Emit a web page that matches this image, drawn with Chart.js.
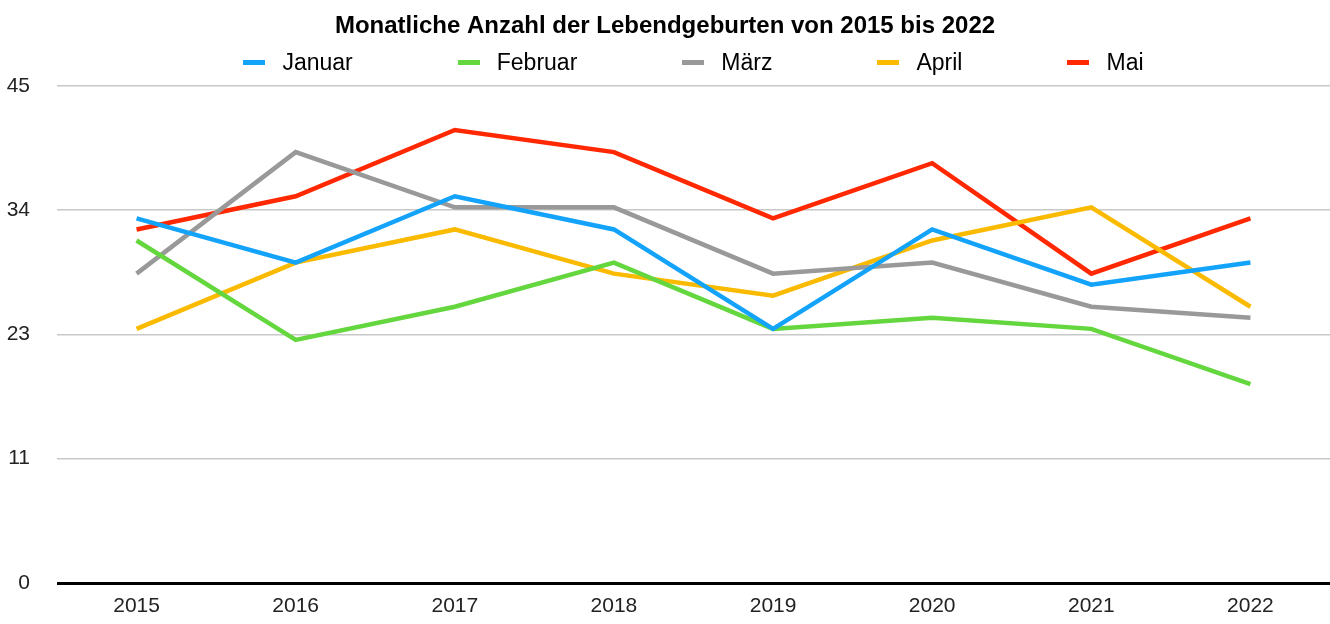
<!DOCTYPE html>
<html>
<head>
<meta charset="utf-8">
<script src="https://cdn.jsdelivr.net/npm/chart.js@4.4.0/dist/chart.umd.min.js"></script>
<style>
    body { margin: 0; background: #fff; }
    #wrap { position: relative; width: 1330px; height: 624px; }
    #legend {
        position: absolute; left: 57px; width: 1273px; top: 48px; height: 28px;
        display: flex; justify-content: center; align-items: center; gap: 105px;
        font-family: "Liberation Sans", Arial, sans-serif; font-size: 23px; color: #000;
    }
    .item { display: flex; align-items: center; }
    .mark { width: 22px; height: 5px; margin-right: 17px; }
</style>
</head>
<body>
<div id="wrap">
    <canvas id="Chart1" width="1330" height="624"></canvas>
    <div id="legend"></div>
</div>
<script>
const years = ['2015', '2016', '2017', '2018', '2019', '2020', '2021', '2022'];

const januar  = [33, 29, 35, 32, 23, 32, 27, 29];
const februar = [31, 22, 25, 29, 23, 24, 23, 18];
const maerz   = [28, 39, 34, 34, 28, 29, 25, 24];
const april   = [23, 29, 32, 28, 26, 31, 34, 25];
const mai     = [32, 35, 41, 39, 33, 38, 28, 33];

const series_names = ['Januar', 'Februar', 'März', 'April', 'Mai'];
const series_colors = ['rgb(20, 163, 250)', 'rgb(100, 214, 62)', 'rgb(153, 153, 153)', 'rgb(250, 186, 0)', 'rgb(255, 40, 0)'];

const y_max = 45;
const y_step = 11.25; // ticks 0, 11, 23, 34, 45 after rounding

const font_name = '"Liberation Sans", Arial, sans-serif';

let series_values = [januar, februar, maerz, april, mai];
let datasets = series_names.map((name, i) => {
    return {
        label: name,
        data: series_values[i],
        borderColor: series_colors[i],
        backgroundColor: series_colors[i],
        borderWidth: 4.5,
        pointRadius: 0,
        pointHoverRadius: 0,
        tension: 0,
        fill: false
    };
});

let config = {
    type: 'line',
    data: { labels: years, datasets: datasets },
    options: {
        responsive: false,
        animation: false,
        layout: { padding: { left: 0, right: 0, top: 0, bottom: 0 } },
        plugins: {
            legend: { display: false },
            tooltip: { enabled: false },
            title: {
                display: true,
                text: 'Monatliche Anzahl der Lebendgeburten von 2015 bis 2022',
                color: '#000',
                font: { family: font_name, size: 24, weight: 'bold' },
                padding: { top: 12, bottom: 45 }
            }
        },
        scales: {
            x: {
                offset: true,
                grid: { display: false },
                border: { display: false },
                afterFit: (axis) => { axis.height = 41; },
                ticks: {
                    color: '#222',
                    font: { family: font_name, size: 21 },
                    padding: 3,
                    maxRotation: 0
                }
            },
            y: {
                min: 0,
                max: y_max,
                border: { display: false },
                grid: {
                    drawTicks: false,
                    color: (ctx) => ctx.tick && ctx.tick.value === 0 ? '#000' : '#c8c8c8',
                    lineWidth: (ctx) => ctx.tick && ctx.tick.value === 0 ? 3 : 1.5
                },
                afterFit: (axis) => { axis.width = 57; },
                afterBuildTicks: (axis) => {
                    let ticks = [];
                    for (let v = 0; v <= y_max + 0.001; v += y_step) {
                        ticks.push({ value: v });
                    }
                    axis.ticks = ticks;
                },
                ticks: {
                    color: '#222',
                    font: { family: font_name, size: 21 },
                    padding: 27,
                    callback: (value) => Math.round(value)
                }
            }
        }
    }
};

let chart = new Chart(document.getElementById('Chart1'), config);

// legend as html, built from the datasets
let legend = document.getElementById('legend');
chart.data.datasets.forEach((ds) => {
    let item = document.createElement('div');
    item.className = 'item';
    let mark = document.createElement('span');
    mark.className = 'mark';
    mark.style.background = ds.borderColor;
    let text = document.createElement('span');
    text.textContent = ds.label;
    item.appendChild(mark);
    item.appendChild(text);
    legend.appendChild(item);
});
</script>
</body>
</html>
